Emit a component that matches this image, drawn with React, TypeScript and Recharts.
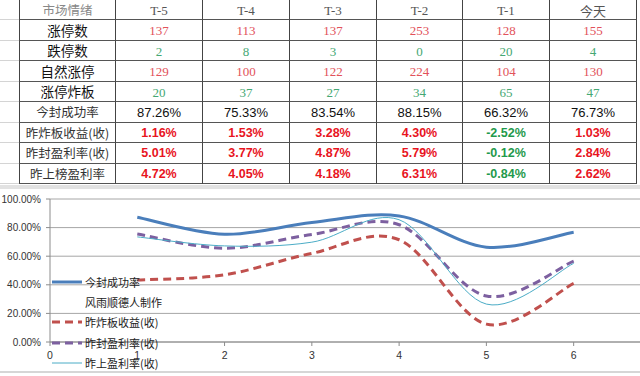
import React from 'react';
import { LineChart, Line, XAxis, YAxis, CartesianGrid } from 'recharts';

// table data
const headers = ['市场情绪', 'T-5', 'T-4', 'T-3', 'T-2', 'T-1', '今天'];
const limitUp = [137, 113, 137, 253, 128, 155];
const limitDown = [2, 8, 3, 0, 20, 4];
const naturalLimitUp = [129, 100, 122, 224, 104, 130];
const brokenBoard = [20, 37, 27, 34, 65, 47];
const sealSuccess = [87.26, 75.33, 83.54, 88.15, 66.32, 76.73];
const brokenProfit = [1.16, 1.53, 3.28, 4.3, -2.52, 1.03];
const sealProfit = [5.01, 3.77, 4.87, 5.79, -0.12, 2.84];
const listProfit = [4.72, 4.05, 4.18, 6.31, -0.84, 2.62];

// chart data (plotted values)
const days = [1, 2, 3, 4, 5, 6];
const successLine = [87.26, 75.33, 83.54, 88.15, 66.32, 76.73];
const brokenLine = [43.3, 47, 62, 71.5, 12.5, 41];
const sealLine = [75.5, 65.6, 75.2, 82, 32.2, 56.6];
const listLine = [73.5, 67.2, 69.8, 85.5, 26.5, 55];
const yTicks = [0, 20, 40, 60, 80, 100];
const xTicks = [0, 1, 2, 3, 4, 5, 6];
const legendLabels = ['今封成功率', '风雨顺德人制作', '昨炸板收益(收)', '昨封盈利率(收)', '昨上盈利率(收)'];

const data = days.map((d, i) => ({
  x: d,
  success: successLine[i],
  broken: brokenLine[i],
  seal: sealLine[i],
  list: listLine[i],
}));

const series = [
  { key: 'success', color: '#4a7ebb', width: 3, dash: undefined as string | undefined },
  { key: 'broken', color: '#c0504d', width: 3, dash: '8 5' },
  { key: 'seal', color: '#7d60a0', width: 3, dash: '8 5' },
  { key: 'list', color: '#4bacc6', width: 1, dash: undefined },
];
// legend row -> series (null = text only)
const legendSeries = [0, null, 1, 2, 3];

// excel-like smooth line (catmull-rom bezier)
function excelCurve(context: any) {
  let pts: number[][] = [];
  return {
    areaStart() {},
    areaEnd() {},
    lineStart() {
      pts = [];
    },
    point(x: number, y: number) {
      pts.push([+x, +y]);
    },
    lineEnd() {
      const n = pts.length;
      if (!n) return;
      context.moveTo(pts[0][0], pts[0][1]);
      for (let i = 0; i < n - 1; i++) {
        const a = pts[Math.max(i - 1, 0)];
        const b = pts[i];
        const c = pts[i + 1];
        const d = pts[Math.min(i + 2, n - 1)];
        context.bezierCurveTo(
          b[0] + (c[0] - a[0]) / 6,
          b[1] + (c[1] - a[1]) / 6,
          c[0] - (d[0] - b[0]) / 6,
          c[1] - (d[1] - b[1]) / 6,
          c[0],
          c[1]
        );
      }
    },
  };
}

const CJK = '"Noto Sans CJK SC", sans-serif';
const SANS = '"Liberation Sans", Arial, sans-serif';
const SERIF = '"Liberation Serif", "Noto Sans CJK SC", serif';
const RED = '#e8141e';
const GREEN = '#1f9a4c';
const SOFT_RED = '#e2525a';
const SOFT_GREEN = '#45a873';

const colX = [19, 116, 203, 290, 377, 463, 550, 637];
const rowY = [0, 20, 41, 61, 82, 102, 123, 143, 164, 184];

const pct = (v: number) => `${v.toFixed(2)}%`;

type Row = { label: string; labelStyle: React.CSSProperties; cells: { text: string; style: React.CSSProperties }[] };

const plain = (vals: number[], color: string) =>
  vals.map((v) => ({ text: String(v), style: { fontFamily: SERIF, fontSize: 13, color } }));
const bold = (vals: number[]) =>
  vals.map((v) => ({
    text: pct(v),
    style: { fontFamily: SANS, fontSize: 12.5, fontWeight: 700, color: v < 0 ? GREEN : RED },
  }));

const bigLabel: React.CSSProperties = { fontFamily: CJK, fontSize: 13.5, color: '#111' };
const smallLabel: React.CSSProperties = { fontFamily: CJK, fontSize: 12.5, color: '#333' };

const rows: Row[] = [
  {
    label: headers[0],
    labelStyle: { fontFamily: CJK, fontSize: 12.5, color: '#888' },
    cells: headers.slice(1).map((h) => ({
      text: h,
      style: { fontFamily: h === '今天' ? CJK : SERIF, fontSize: 13, color: '#555' },
    })),
  },
  { label: '涨停数', labelStyle: bigLabel, cells: plain(limitUp, SOFT_RED) },
  { label: '跌停数', labelStyle: bigLabel, cells: plain(limitDown, SOFT_GREEN) },
  { label: '自然涨停', labelStyle: bigLabel, cells: plain(naturalLimitUp, SOFT_RED) },
  { label: '涨停炸板', labelStyle: bigLabel, cells: plain(brokenBoard, SOFT_GREEN) },
  {
    label: '今封成功率',
    labelStyle: smallLabel,
    cells: sealSuccess.map((v) => ({ text: pct(v), style: { fontFamily: SANS, fontSize: 13, color: '#111' } })),
  },
  { label: '昨炸板收益(收)', labelStyle: smallLabel, cells: bold(brokenProfit) },
  { label: '昨封盈利率(收)', labelStyle: smallLabel, cells: bold(sealProfit) },
  { label: '昨上榜盈利率', labelStyle: smallLabel, cells: bold(listProfit) },
];

const Table: React.FC = () => (
  <>
    {/* faint spreadsheet grid left of the table */}
    {rowY.slice(1).map((y) => (
      <div key={'g' + y} style={{ position: 'absolute', left: 0, top: y - 1, width: 19, height: 1, background: '#d4d4d4' }} />
    ))}
    {rows.map((row, r) => {
      const top = rowY[r];
      const h = rowY[r + 1] - top;
      const all = [{ text: row.label, style: row.labelStyle }, ...row.cells];
      return all.map((c, ci) => (
        <div
          key={r + '-' + ci}
          style={{
            position: 'absolute',
            left: colX[ci],
            top,
            width: colX[ci + 1] - colX[ci],
            height: h,
            boxSizing: 'border-box',
            borderLeft: ci === 0 ? '1px solid #444' : undefined,
            borderRight: '1px solid #444',
            borderBottom: '1px solid #555',
            display: 'flex',
            alignItems: 'center',
            justifyContent: 'center',
            paddingTop: 1,
            lineHeight: 1,
            whiteSpace: 'nowrap',
            ...c.style,
          }}
        >
          {c.text}
        </div>
      ));
    })}
    {/* grey band between table and chart */}
    <div style={{ position: 'absolute', left: 0, top: 185, width: 640, height: 4, background: '#e2e2e2' }} />
  </>
);

const ChartLegend: React.FC = () => (
  <div style={{ position: 'absolute', left: 52, top: 272, width: 130 }}>
    {legendLabels.map((label, i) => {
      const s = legendSeries[i] === null ? null : series[legendSeries[i] as number];
      return (
        <div key={label} style={{ position: 'absolute', left: 0, top: i * 20.2, height: 20, display: 'flex', alignItems: 'center' }}>
          <svg width={32} height={20} style={{ display: 'block' }}>
            {s && (
              <line x1={0} y1={10} x2={30} y2={10} stroke={s.color} strokeWidth={s.width} strokeDasharray={s.dash} />
            )}
          </svg>
          <span style={{ fontFamily: CJK, fontSize: 11, color: '#222', marginLeft: 1, whiteSpace: 'nowrap' }}>{label}</span>
        </div>
      );
    })}
  </div>
);

const App: React.FC = () => {
  return (
    <div style={{ position: 'absolute', left: 0, top: 0, width: 640, height: 376, overflow: 'hidden', background: '#fff' }}>
      <Table />
      <div style={{ position: 'absolute', left: 0, top: 190 }}>
        <LineChart width={640} height={186} data={data} margin={{ top: 9, right: 0, bottom: 4, left: 0 }}>
          <CartesianGrid vertical={false} stroke="#a6a6a6" />
          <XAxis
            dataKey="x"
            type="number"
            domain={[0, 6.76]}
            ticks={xTicks}
            allowDataOverflow
            height={30}
            tickSize={4}
            tickMargin={6}
            axisLine={{ stroke: '#8c8c8c' }}
            tickLine={{ stroke: '#8c8c8c' }}
            tick={{ fontSize: 10.5, fill: '#333', fontFamily: SANS }}
          />
          <YAxis
            domain={[0, 100]}
            ticks={yTicks}
            width={50}
            tickSize={4}
            tickMargin={5}
            tickFormatter={pct}
            axisLine={{ stroke: '#8c8c8c' }}
            tickLine={{ stroke: '#8c8c8c' }}
            tick={{ fontSize: 10, fill: '#333', fontFamily: SANS }}
          />
          {series.map((s) => (
            <Line
              key={s.key}
              dataKey={s.key}
              type={excelCurve as any}
              stroke={s.color}
              strokeWidth={s.width}
              strokeDasharray={s.dash}
              dot={false}
              activeDot={false}
              isAnimationActive={false}
            />
          ))}
        </LineChart>
      </div>
      <ChartLegend />
      <div style={{ position: 'absolute', left: 0, top: 371, width: 640, height: 2, background: '#d6d6d6' }} />
    </div>
  );
};

export default App;
